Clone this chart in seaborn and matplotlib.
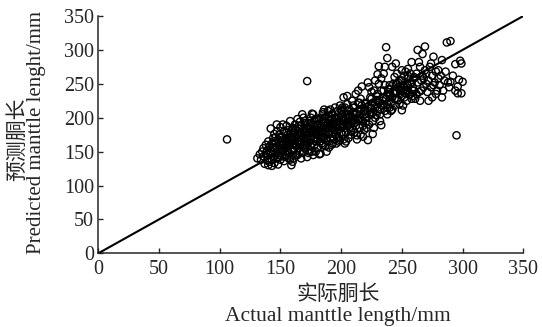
import numpy as np
import pandas as pd
import matplotlib
matplotlib.use("Agg")
import matplotlib.pyplot as plt
import seaborn as sns

# actual vs predicted mantle length (mm)
actual = [
    106,
    131, 133, 134, 135, 136, 136, 137, 138, 138, 139, 139, 140, 140, 140, 141,
    141, 142, 142, 143, 143, 144, 144, 145, 145, 145, 146, 146, 147, 147, 147, 148, 148, 148, 149, 149,
    149, 150, 150, 142, 144, 146, 148, 145, 143, 147,
    150, 151, 151, 152, 152, 153, 153, 154, 154, 155, 155, 155, 156, 156, 157, 157, 157, 158, 158, 159,
    159, 159, 160, 160, 151, 153, 155, 157, 159, 152, 154, 156, 158, 150, 160,
    160, 161, 161, 162, 162, 163, 163, 164, 164, 165, 165, 165, 166, 166, 167, 167, 167, 168, 168, 169,
    169, 169, 170, 170, 161, 163, 165, 167, 169, 162, 164, 166, 168, 170, 160, 164, 168, 166,
    170, 171, 171, 172, 172, 173, 173, 174, 174, 175, 175, 175, 176, 176, 177, 177, 177, 178, 178, 179,
    179, 179, 180, 180, 171, 173, 175, 177, 179, 172, 174, 176, 178, 180, 172, 176, 174, 178,
    180, 181, 181, 182, 182, 183, 183, 184, 184, 185, 185, 185, 186, 186, 187, 187, 187, 188, 188, 189,
    189, 189, 190, 190, 181, 183, 185, 187, 189, 182, 184, 186, 188, 190, 183,
    190, 191, 191, 192, 192, 193, 193, 194, 194, 195, 195, 195, 196, 196, 197, 197, 198, 198, 199, 199,
    200, 200, 191, 193, 195, 197, 199, 192, 194, 196, 198, 200,
    200, 201, 201, 202, 202, 203, 203, 204, 204, 205, 205, 206, 206, 207, 207, 208, 208, 209, 209, 210,
    210, 202, 204, 206, 208, 201, 203, 205, 207, 209,
    210, 211, 211, 212, 212, 213, 214, 214, 215, 215, 216, 216, 217, 218, 218, 219, 219, 220, 220, 212,
    214, 216, 218, 213, 217, 211,
    220, 221, 222, 222, 223, 224, 224, 225, 226, 226, 227, 228, 228, 229, 230, 230, 221, 223, 225, 227,
    229, 222, 226, 228,
    230, 231, 232, 233, 233, 234, 235, 236, 236, 237, 238, 238, 239, 240, 231, 233, 235, 237, 239, 232,
    238, 236,
    240, 241, 242, 242, 243, 244, 244, 245, 246, 246, 247, 248, 248, 249, 250, 241, 243, 245, 247, 249,
    242, 246,
    250, 251, 252, 252, 253, 254, 255, 255, 256, 257, 258, 258, 259, 260, 251, 253, 255, 257, 259, 254,
    260, 261, 262, 263, 264, 265, 265, 266, 267, 267, 268, 269, 270, 262, 264, 266, 268, 263, 269,
    270, 271, 272, 273, 274, 275, 275, 276, 277, 278, 279, 280, 272, 274, 276, 278,
    280, 281, 282, 283, 284, 285, 286, 287, 288, 289, 290, 283,
    290, 292, 294, 295, 296, 296, 297, 298, 299, 299, 300, 294,
    # dense core
    152, 156, 158, 162, 165, 168, 171, 174, 177, 180, 183, 186, 189, 192, 195, 198, 201, 204, 207, 210,
    213, 216, 219, 222, 225, 228, 231, 234, 237, 240, 243, 246, 249, 252, 255, 258,
    154, 157, 160, 163, 166, 169, 172, 175, 178, 181, 184, 187, 190, 193, 196, 199, 202, 205, 208, 211,
    214, 217, 220, 223, 226, 229, 232, 235, 238, 241, 244, 247, 250, 253, 256, 259,
    155, 160, 165, 170, 175, 180, 185, 190, 195, 200, 205, 210, 215, 220, 225, 230, 235, 240, 245, 250,
    255, 260,
]
predicted = [
    168,
    140, 146, 138, 150, 143, 155, 132, 148, 160, 137, 152, 145, 130, 165, 158,
    135, 184, 150, 129, 162, 142, 170, 133, 155, 176, 148, 163, 140, 158, 180, 131, 152, 168, 145, 160,
    175, 138, 186, 147, 156, 171, 142, 165, 138, 190,
    158, 143, 172, 150, 165, 136, 180, 155, 170, 145, 162, 188, 150, 175, 140, 160, 182, 168, 195, 152,
    172, 130, 185, 160, 152, 162, 168, 148, 178, 190, 142, 158, 138, 170, 145,
    168, 152, 178, 160, 190, 145, 172, 165, 198, 155, 170, 184, 150, 176, 162, 188, 140, 158, 172, 180,
    150, 200, 165, 192, 140, 158, 162, 175, 168, 184, 176, 194, 148, 178, 135, 145, 205, 160,
    155, 170, 185, 162, 254, 148, 178, 165, 195, 158, 172, 188, 150, 180, 168, 190, 205, 160, 176, 184,
    150, 198, 170, 188, 160, 192, 200, 145, 165, 174, 182, 162, 196, 155, 142, 206, 150, 178,
    175, 157, 190, 146, 182, 165, 200, 172, 188, 160, 178, 208, 168, 195, 158, 176, 200, 185, 170, 165,
    192, 210, 180, 156, 168, 147, 170, 188, 178, 198, 162, 212, 150, 196, 185,
    185, 170, 198, 160, 188, 178, 205, 168, 192, 175, 200, 215, 162, 185, 180, 210, 170, 195, 188, 167,
    200, 178, 212, 162, 188, 172, 218, 205, 182, 198, 165, 210,
    190, 175, 205, 168, 195, 185, 215, 178, 200, 192, 220, 170, 205, 186, 212, 180, 198, 195, 225, 182,
    208, 230, 165, 190, 175, 215, 162, 232, 200, 185,
    195, 178, 215, 188, 205, 174, 196, 222, 185, 210, 175, 200, 218, 172, 195, 205, 182, 210, 192, 235,
    240, 228, 188, 168, 246, 200,
    222, 200, 167, 210, 190, 215, 230, 205, 195, 222, 240, 200, 215, 232, 210, 264, 185, 245, 238, 185,
    226, 252, 176, 255,
    225, 276, 205, 189, 240, 218, 230, 210, 248, 304, 220, 288, 235, 215, 250, 258, 265, 228, 242, 195,
    205, 275,
    242, 222, 275, 230, 250, 218, 260, 238, 228, 265, 245, 220, 255, 235, 270, 210, 238, 280, 252, 240,
    212, 250,
    211, 245, 230, 262, 240, 225, 258, 272, 235, 250, 228, 282, 245, 260, 218, 268, 240, 265, 232, 250,
    240, 228, 265, 252, 238, 275, 225, 255, 294, 262, 245, 270, 250, 235, 282, 240, 258, 300, 305,
    265, 238, 255, 275, 245, 262, 230, 290, 252, 268, 240, 258, 225, 280, 248, 235,
    270, 248, 262, 285, 240, 255, 268, 311, 252, 245, 313, 230,
    253, 262, 279, 174, 246, 236, 256, 284, 280, 236, 253, 240,
    # dense core
    160, 165, 172, 170, 175, 182, 178, 185, 180, 190, 186, 192, 190, 198, 194, 200, 198, 205, 202, 208,
    206, 212, 210, 216, 214, 220, 222, 225, 228, 232, 236, 238, 242, 245, 248, 252,
    150, 158, 162, 158, 166, 170, 168, 172, 170, 176, 178, 182, 176, 184, 188, 186, 190, 188, 194, 192,
    198, 196, 200, 205, 208, 204, 212, 218, 215, 222, 228, 226, 232, 236, 234, 240,
    178, 182, 188, 195, 192, 198, 205, 202, 208, 212, 210, 218, 222, 220, 228, 235, 240, 248, 250, 255,
    262, 258,
]
ref_line = [0, 350]
ticks = [0, 50, 100, 150, 200, 250, 300, 350]

df = pd.DataFrame({"actual": actual, "predicted": predicted})

sns.set_style("ticks")
fonts = ["Liberation Serif", "Noto Sans CJK SC"]
plt.rcParams["font.family"] = fonts

fig = plt.figure(figsize=(5.42, 3.27), dpi=100)
ax = fig.add_axes([0.1814, 0.2254, 0.9655 - 0.1814, 0.951 - 0.2254])

sns.scatterplot(data=df, x="actual", y="predicted", ax=ax, marker="o", s=27,
                facecolor="none", edgecolor="black", linewidth=1.0, zorder=2)
sns.lineplot(x=ref_line, y=ref_line, ax=ax, color="black", linewidth=1.5, zorder=3)

ax.set_xlim(0, 350)
ax.set_ylim(0, 350)
ax.set_xticks(ticks)
ax.set_yticks(ticks)
ax.tick_params(direction="in", length=3.5, width=1, labelsize=14.5)
ax.tick_params(axis="x", pad=5)
ax.tick_params(axis="y", pad=3)
for sp in ["top", "right"]:
    ax.spines[sp].set_visible(False)
for sp in ["left", "bottom"]:
    ax.spines[sp].set_linewidth(1.1)
ax.set_xlabel("")
ax.set_ylabel("")

# two-line axis titles (Chinese + English)
fig.text(338 / 542, 1 - 295 / 327, "实际胴长", ha="center", va="center", fontsize=15, family=fonts)
fig.text(338 / 542, 1 - 316 / 327, "Actual manttle length/mm", ha="center", va="center", fontsize=15.5, family=fonts)
fig.text(18 / 542, 1 - 139 / 327, "预测胴长", ha="center", va="center", rotation=90, fontsize=15, family=fonts)
fig.text(37 / 542, 1 - 133 / 327, "Predicted manttle lenght/mm", ha="center", va="center", rotation=90, fontsize=15, family=fonts)

fig.savefig("out.png", dpi=100)
